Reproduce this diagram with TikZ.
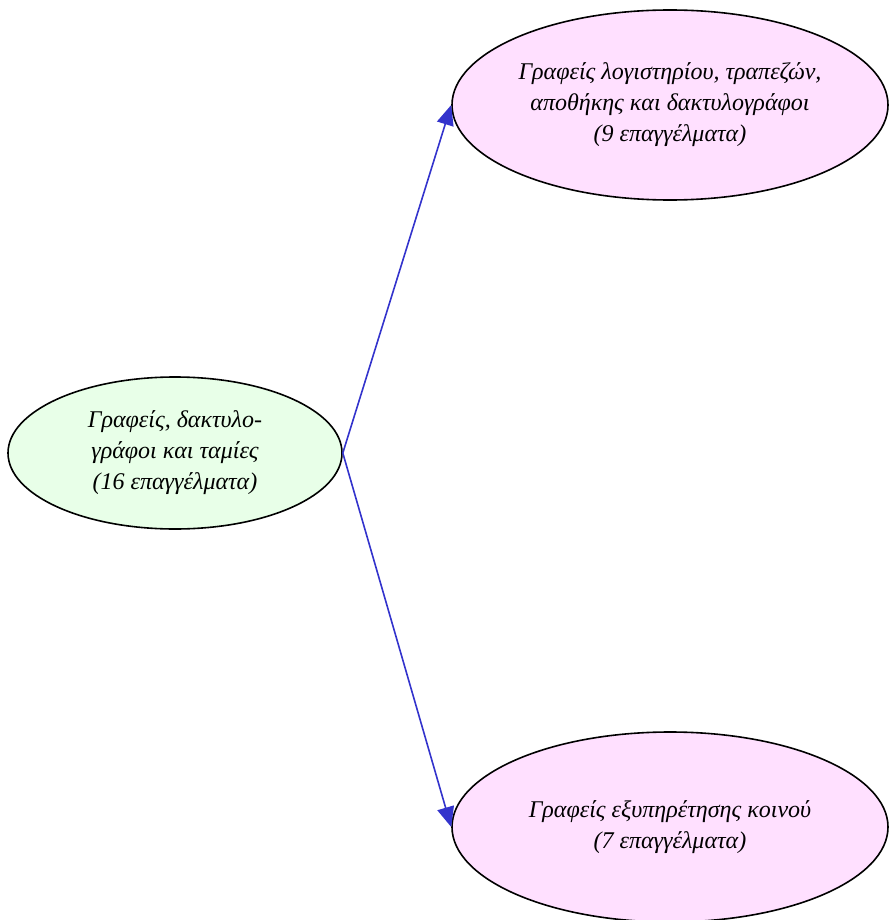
\documentclass[tikz,border=0pt]{standalone}
\usepackage{fontspec}
\setmainfont{Liberation Serif}
\usepackage{tikz}
\usetikzlibrary{shapes.geometric, arrows.meta}
\definecolor{mainGreen}{HTML}{E8FFE8}
\definecolor{branchPink}{HTML}{FFE0FF}
\definecolor{arrowBlue}{HTML}{3333CC}
\tikzstyle{officeGroup} = [ellipse, minimum width=334pt, minimum height=152pt, inner sep=0pt, text centered, align=center, draw=black, line width=1.6pt, fill=mainGreen, font=\fontsize{24}{31}\selectfont\itshape]
\tikzstyle{officeBranch} = [ellipse, minimum width=436pt, minimum height=190pt, inner sep=0pt, text centered, align=center, draw=black, line width=1.6pt, fill=branchPink, font=\fontsize{24}{31}\selectfont\itshape]
\tikzstyle{arrow} = [line width=1.6pt, draw=arrowBlue, -{Triangle[length=20pt,width=17pt]}, arrowBlue]

\begin{document}
\begin{tikzpicture}[x=1pt,y=-1pt]
\useasboundingbox (0,0) rectangle (888,920);

\node (offices) [officeGroup] at (175,453) {Γραφείς, δακτυλο-\\γράφοι και ταμίες\\(16 επαγγέλματα)};

\node (accounting) [officeBranch] at (670,105) {Γραφείς λογιστηρίου, τραπεζών,\\αποθήκης και δακτυλογράφοι\\(9 επαγγέλματα)};
\node (service) [officeBranch] at (670,827) {Γραφείς εξυπηρέτησης κοινού\\(7 επαγγέλματα)};

\draw [arrow] (offices.east) -- (accounting.west);
\draw [arrow] (offices.east) -- (service.west);
\end{tikzpicture}
\end{document}
